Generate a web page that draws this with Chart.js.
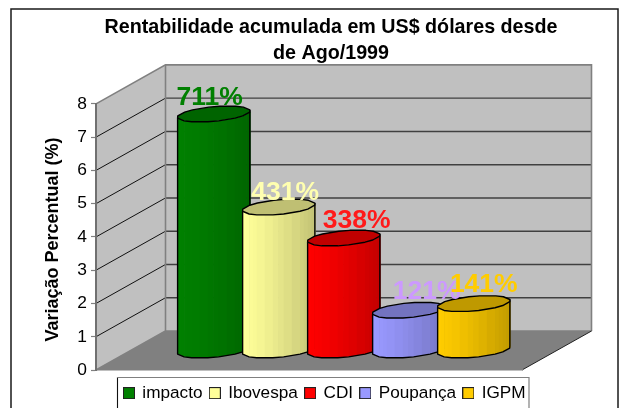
<!DOCTYPE html>
<html><head><meta charset="utf-8">
<style>html,body{margin:0;padding:0;background:#fff}canvas{display:block}</style>
<script src="https://cdn.jsdelivr.net/npm/chart.js@4"></script>
</head><body><canvas id="c" width="621" height="408"></canvas>
<script>
const chartTitle = ['Rentabilidade acumulada em US$ dólares desde', 'de Ago/1999'];
const axisTitle = 'Variação Percentual (%)';
const categories = [''];
const seriesNames = ['impacto', 'Ibovespa', 'CDI', 'Poupança', 'IGPM'];
const seriesValues = [7.11, 4.31, 3.38, 1.21, 1.41];
const seriesLabels = ['711%', '431%', '338%', '121%', '141%'];
const faceColors = ['#008000', '#FFFF99', '#FF0000', '#9999FF', '#FFCC00'];
const topColors = ['#006400', '#BFBF73', '#C00000', '#7373BF', '#BF9900'];
const labelColors = ['#008000', '#FFFFB0', '#FF1A1A', '#CC99FF', '#FFCC00'];
const labelNudgeX = [-4, 6.5, 13, 18, 10];
const labelNudgeY = [-9.5, -7, -10, -11, -11.5];

const DEPTH_X = 69.5, DEPTH_Y = 39, SHEAR_X = 28, SHEAR_Y = 15.5;
const font = 'Arial, "Liberation Sans", sans-serif';

function hex(c){return [1,3,5].map(i=>parseInt(c.substr(i,2),16));}
function mix(a,b,f){const A=hex(a),B=hex(b);return 'rgb('+A.map((v,i)=>Math.round(v+(B[i]-v)*f)).join(',')+')';}
function legendSwatch(color){
  const c=document.createElement('canvas');c.width=12;c.height=12;
  const g=c.getContext('2d');g.fillStyle=color;g.fillRect(0,0,12,12);
  g.strokeStyle='#222';g.lineWidth=1;g.strokeRect(0.5,0.5,11,11);
  return c;
}
// outline of the cylinder's cap: a sheared octagon with softened corners
function capRing(a,b,h){
  const k=1/Math.cos(Math.PI/8), base=[];
  for(let n=0;n<8;n++){
    const t=Math.PI/8+n*Math.PI/4;
    base.push([k*(a*Math.cos(t)+b*Math.sin(t)), -k*h*Math.sin(t)]);
  }
  const ring=[], cut=0.2;
  base.forEach((p,n)=>{
    const q=base[(n+1)%8];
    ring.push([p[0]+(q[0]-p[0])*cut,p[1]+(q[1]-p[1])*cut]);
    ring.push([p[0]+(q[0]-p[0])*(1-cut),p[1]+(q[1]-p[1])*(1-cut)]);
  });
  return ring;
}

function drawCylinder(ctx,bar,i){
  const face = faceColors[i], top = topColors[i];
  const cx = bar.x + DEPTH_X/2, dy = -DEPTH_Y/2;
  const yTop = bar.y + dy, yBase = bar.base + dy;
  const ring = capRing(bar.width/2, SHEAR_X/2, SHEAR_Y/2), n = ring.length;
  let iL=0,iR=0;
  ring.forEach((p,k)=>{if(p[0]<ring[iL][0])iL=k;if(p[0]>ring[iR][0])iR=k;});
  const chain=[];
  for(let k=iL;;k=(k+1)%n){chain.push(ring[k]);if(k===iR)break;}
  const xL=ring[iL][0], xR=ring[iR][0];
  ctx.save();
  chain.forEach((p,k)=>{
    const q=chain[k+1]; if(!q)return;
    for(let j=0;j<2;j++){
      const x1=p[0]+(q[0]-p[0])*j/2, x2=p[0]+(q[0]-p[0])*(j+1)/2;
      const y1=p[1]+(q[1]-p[1])*j/2, y2=p[1]+(q[1]-p[1])*(j+1)/2;
      const f=Math.min(1,Math.max(0,((x1+x2)/2-xL)/(xR-xL)));
      ctx.fillStyle=mix(face,top,Math.pow(f,1.3)*0.95);
      const over=(k===chain.length-2&&j===1)?0:0.7;
      ctx.beginPath();
      ctx.moveTo(cx+x1,yTop+y1);ctx.lineTo(cx+x2+over,yTop+y2);ctx.lineTo(cx+x2+over,yBase+y2);ctx.lineTo(cx+x1,yBase+y1);ctx.closePath();ctx.fill();
    }
  });
  ctx.strokeStyle='#000';ctx.lineWidth=1.4;ctx.lineJoin='round';
  ctx.beginPath();
  ctx.moveTo(cx+chain[0][0],yTop+chain[0][1]);
  chain.forEach(p=>ctx.lineTo(cx+p[0],yBase+p[1]));
  const last=chain[chain.length-1];
  ctx.lineTo(cx+last[0],yTop+last[1]);
  ctx.stroke();
  ctx.beginPath();
  ring.forEach((p,k)=>k?ctx.lineTo(cx+p[0],yTop+p[1]):ctx.moveTo(cx+p[0],yTop+p[1]));
  ctx.closePath();
  ctx.fillStyle=top;ctx.fill();ctx.stroke();
  ctx.restore();
}

const scene = {
  id:'scene',
  beforeLayout(chart){
    const lg = chart.legend;
    if(lg && !lg._wrapped){
      const fit = lg.fit;
      lg.fit = function(){fit.call(this); this.height = 0;};
      lg._wrapped = true;
    }
  },
  afterLayout(chart){
    const t = chart.titleBlock; t.left = 0; t.right = 662; t.width = 662;
    const lg = chart.legend, p = lg.options.labels.padding;
    lg.left = 124.25 - p; lg.right = 540; lg.width = lg.right-lg.left; lg.top = 384.5 - p; lg.bottom = 404;
  },
  beforeDraw(chart){
    const {ctx, scales:{x,y}} = chart;
    const L = x.left, R = x.right, B = y.getPixelForValue(0), T = y.getPixelForValue(8);
    ctx.save();
    ctx.fillStyle = '#fff'; ctx.fillRect(0,0,chart.width,chart.height);
    ctx.strokeStyle = '#1a1a1a'; ctx.lineWidth = 1.5;
    ctx.strokeRect(11,9,607,420);
    const poly = (pts,fill)=>{ctx.beginPath();pts.forEach((p,i)=>i?ctx.lineTo(p[0],p[1]):ctx.moveTo(p[0],p[1]));ctx.closePath();ctx.fillStyle=fill;ctx.fill();};
    const bx=L+DEPTH_X, bB=B-DEPTH_Y, bT=T-DEPTH_Y, bR=R+DEPTH_X;
    poly([[L,B],[L,T],[bx,bT],[bx,bB]],'#C0C0C0');
    poly([[bx,bT],[bR,bT],[bR,bB],[bx,bB]],'#C0C0C0');
    poly([[L,B],[R,B],[bR,bB],[bx,bB]],'#808080');
    ctx.lineCap='butt';
    y.ticks.forEach(tk=>{
      const py=y.getPixelForValue(tk.value);
      if(tk.value>0 && tk.value<8){
        ctx.strokeStyle='#404040';ctx.lineWidth=1.4;
        ctx.beginPath();ctx.moveTo(bx,py-DEPTH_Y);ctx.lineTo(bR,py-DEPTH_Y);ctx.stroke();
        ctx.strokeStyle='#111';ctx.lineWidth=1;
        ctx.beginPath();ctx.moveTo(L,py);ctx.lineTo(bx,py-DEPTH_Y);ctx.stroke();
      }
    });
    ctx.strokeStyle='#808080';ctx.lineWidth=1.6;
    ctx.beginPath();ctx.moveTo(L,T);ctx.lineTo(bx,bT);ctx.lineTo(bR,bT);ctx.lineTo(bR,bB);ctx.stroke();
    ctx.beginPath();ctx.moveTo(bx,bT);ctx.lineTo(bx,bB);ctx.lineTo(L,B);ctx.stroke();
    ctx.beginPath();ctx.moveTo(bx,bB);ctx.lineTo(bR,bB);ctx.stroke();
    ctx.strokeStyle='#222';ctx.lineWidth=1;
    ctx.beginPath();ctx.moveTo(R,B);ctx.lineTo(bR,bB);ctx.stroke();
    ctx.strokeStyle='#808080';ctx.lineWidth=1.2;
    ctx.beginPath();ctx.moveTo(117.5,420);ctx.lineTo(117.5,377.5);ctx.lineTo(529,377.5);ctx.lineTo(529,420);ctx.stroke();
    ctx.strokeStyle='#111';ctx.lineWidth=1;
    ctx.beginPath();ctx.moveTo(117.5,420);ctx.lineTo(117.5,378);ctx.stroke();
    ctx.restore();
  },
  beforeDatasetsDraw(chart){
    chart.data.datasets.forEach((d,i)=>drawCylinder(chart.ctx,chart.getDatasetMeta(i).data[0],i));
  },
  beforeDatasetDraw(){return false;},
  afterDatasetsDraw(chart){
    const {ctx} = chart;
    ctx.save();
    ctx.font='bold 26.5px '+font;ctx.textAlign='center';ctx.textBaseline='alphabetic';
    chart.data.datasets.forEach((d,i)=>{
      const bar=chart.getDatasetMeta(i).data[0];
      ctx.fillStyle=labelColors[i];
      ctx.fillText(seriesLabels[i], bar.x+DEPTH_X/2+labelNudgeX[i], bar.y-DEPTH_Y/2+labelNudgeY[i]);
    });
    ctx.restore();
  }
};

new Chart(document.getElementById('c'),{
  type:'bar',
  data:{labels:categories,datasets:seriesNames.map((n,i)=>({label:n,data:[seriesValues[i]],backgroundColor:faceColors[i],borderColor:'#000',borderWidth:1}))},
  options:{
    responsive:false,animation:false,
    layout:{padding:{left:0,right:99,top:0,bottom:38}},
    datasets:{bar:{categoryPercentage:0.763,barPercentage:1}},
    plugins:{
      tooltip:{enabled:false},
      title:{display:true,text:chartTitle,color:'#000',align:'center',font:{family:font,size:19.7,weight:'bold',lineHeight:1.33},padding:{top:14.5,bottom:37}},
      legend:{display:true,position:'bottom',align:'start',
        labels:{font:{family:font,size:17.2},color:'#000',usePointStyle:true,pointStyleWidth:9.5,boxHeight:11,padding:7.5,
          generateLabels:c=>c.data.datasets.map((d,i)=>({text:d.label,fillStyle:d.backgroundColor,strokeStyle:'#000',lineWidth:1,pointStyle:legendSwatch(d.backgroundColor),datasetIndex:i}))}}
    },
    scales:{
      x:{grid:{display:false},ticks:{display:false},border:{display:true,color:'#808080',width:1.6},afterFit(s){s.height=0;}},
      y:{min:0,max:8,ticks:{stepSize:1,color:'#000',font:{family:font,size:17.4},padding:4},
        grid:{display:true,drawOnChartArea:false,drawTicks:true,tickLength:5,tickColor:'#808080',tickWidth:1.2},
        border:{display:true,color:'#707070',width:2},
        title:{display:true,text:axisTitle+' ',color:'#000',font:{family:font,size:18,weight:'bold'},padding:{top:42,bottom:0}},
        afterFit(s){s.width=96;}}
    }
  },
  plugins:[scene]
});
</script></body></html>
